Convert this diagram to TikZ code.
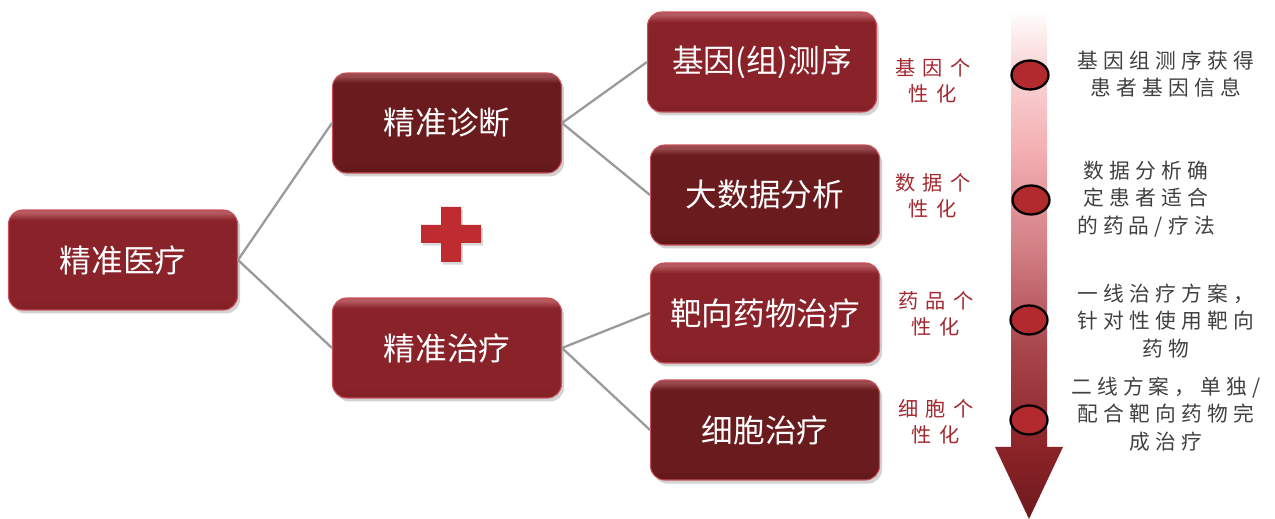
\documentclass[tikz,border=0pt]{standalone}
\usepackage{fontspec}
\setmainfont{Noto Sans CJK SC}
\newfontfamily\boxfont{Noto Sans CJK SC}
\newfontfamily\redfont[LetterSpace=38]{Noto Sans CJK SC}
\newfontfamily\descfont[LetterSpace=25]{Noto Sans CJK SC}
\usetikzlibrary{shapes.geometric,shadows}
\definecolor{boxred}{HTML}{8A2329}
\definecolor{boxdark}{HTML}{6A1B1D}
\definecolor{edgered}{HTML}{C8505A}
\definecolor{linegray}{HTML}{9A9A9A}
\definecolor{plusred}{HTML}{BE2B30}
\definecolor{labelred}{HTML}{A3282F}
\definecolor{desctext}{HTML}{404040}
\definecolor{dotred}{HTML}{B22A2E}
\definecolor{arrowpale}{HTML}{FADADB}
\definecolor{arrowpink}{HTML}{F3AFB2}
\definecolor{arrowmid}{HTML}{D27E84}
\definecolor{arrowdeep}{HTML}{A8454C}
\definecolor{arrowhead}{HTML}{8B2328}
\definecolor{arrowdark}{HTML}{6E1A1E}
\definecolor{boxredtop}{HTML}{B5585F}
\definecolor{boxdarktop}{HTML}{9A4A4E}
\definecolor{boxredbot}{HTML}{7E1F24}
\definecolor{boxdarkbot}{HTML}{5E1719}
\pgfdeclareverticalshading{arrowshade}{100bp}{
  color(0bp)=(arrowdark); color(25bp)=(arrowdark); color(32bp)=(arrowhead);
  color(41.6bp)=(arrowdeep); color(51.4bp)=(arrowmid); color(61.2bp)=(arrowpink);
  color(70bp)=(arrowpale); color(75bp)=(white); color(100bp)=(white)}
\pgfdeclareverticalshading{boxAshade}{100bp}{
  color(0bp)=(boxredbot); color(25bp)=(boxredbot); color(30bp)=(boxred);
  color(70bp)=(boxred); color(73.5bp)=(boxredtop); color(75bp)=(boxredtop); color(100bp)=(boxredtop)}
\pgfdeclareverticalshading{boxBshade}{100bp}{
  color(0bp)=(boxdarkbot); color(25bp)=(boxdarkbot); color(30bp)=(boxdark);
  color(70bp)=(boxdark); color(73.5bp)=(boxdarktop); color(75bp)=(boxdarktop); color(100bp)=(boxdarktop)}
\tikzset{
  basebox/.style={rectangle, rounded corners=8pt, minimum width=4.58cm, minimum height=2cm,
    draw=edgered, line width=0.6pt, text=white, font=\boxfont\fontsize{18}{20}\selectfont,
    drop shadow={shadow xshift=1.5pt, shadow yshift=-2pt, opacity=0.35}},
  boxA/.style={basebox, shading=boxAshade},
  boxB/.style={basebox, shading=boxBshade},
  conn/.style={draw=linegray, line width=1.3pt},
  redlabel/.style={text=labelred, align=center, font=\redfont\fontsize{11.5}{14.5}\selectfont},
  desc/.style={text=desctext, align=center, font=\descfont\fontsize{11.8}{15.5}\selectfont},
  dot/.style={ellipse, draw=black, line width=1.3pt, fill=dotred, minimum width=0.74cm, minimum height=0.58cm, inner sep=0pt}
}
\begin{document}
\begin{tikzpicture}[x=0.02cm, y=-0.02cm]
\useasboundingbox (0,0) rectangle (1275,519);

% vertical arrow
\shade[shading=arrowshade]
  (1011,10) -- (1047,10) -- (1047,447) -- (1063,447) -- (1029,519) -- (995,447) -- (1011,447) -- cycle;

% boxes
\node[boxA] (root) at (123,260) {精准医疗};
\node[boxB] (diag) at (447,123) {精准诊断};
\node[boxA] (treat) at (447,348) {精准治疗};
\node[boxA] (seq) at (762,62) {基因(组)测序};
\node[boxB] (data) at (765,195) {大数据分析};
\node[boxA] (drug) at (765,313) {靶向药物治疗};
\node[boxB] (cell) at (765,430) {细胞治疗};

% connectors
\draw[conn] (root.east) -- (diag.west);
\draw[conn] (root.east) -- (treat.west);
\draw[conn] (diag.east) -- (seq.west);
\draw[conn] (diag.east) -- (data.west);
\draw[conn] (treat.east) -- (drug.west);
\draw[conn] (treat.east) -- (cell.west);

% plus sign
\fill[plusred, drop shadow={shadow xshift=1pt, shadow yshift=-1.5pt, opacity=0.3}]
  (441,207) -- (461,207) -- (461,225) -- (481,225) -- (481,243) -- (461,243) -- (461,262)
  -- (441,262) -- (441,243) -- (421,243) -- (421,225) -- (441,225) -- cycle;

% dots
\node[dot] (d1) at (1030,75) {};
\node[dot] (d2) at (1031,200) {};
\node[dot] (d3) at (1029,320) {};
\node[dot] (d4) at (1029,420) {};

% red labels
\node[redlabel] (l1) at (933,81) {基因个\\性化};
\node[redlabel] (l2) at (933,196) {数据个\\性化};
\node[redlabel] (l3) at (936,314) {药品个\\性化};
\node[redlabel] (l4) at (936,422) {细胞个\\性化};

% descriptions
\node[desc] (t1) at (1166,74) {基因组测序获得\\患者基因信息};
\node[desc] (t2) at (1146,199) {数据分析确\\定患者适合\\的药品/疗法};
\node[desc] (t3) at (1166,321) {一线治疗方案，\\针对性使用靶向\\药物};
\node[desc] (t4) at (1166,414) {二线方案，单独/\\配合靶向药物完\\成治疗};
\end{tikzpicture}
\end{document}
